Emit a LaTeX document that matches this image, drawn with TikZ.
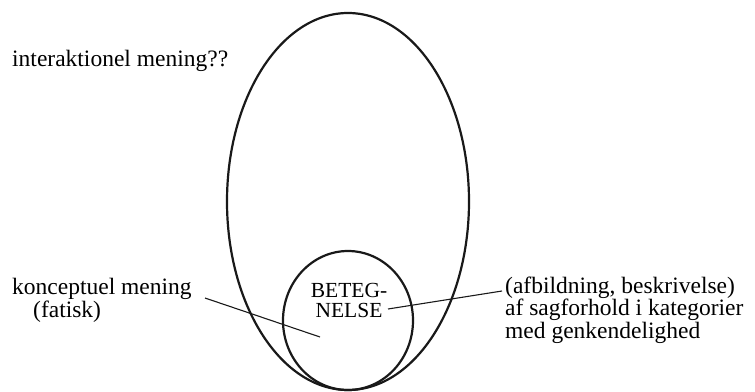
\documentclass[tikz,border=0pt]{standalone}
\usepackage{fontspec}
\setmainfont{Liberation Serif}
\begin{document}
\begin{tikzpicture}[x=1pt,y=-1pt,
  shape line/.style={line width=2.2pt, black!90},
  connector/.style={line width=1.1pt, black!90},
  label/.style={inner sep=0pt, font=\fontsize{23.5}{20.5}\selectfont},
  inlabel/.style={inner sep=0pt, font=\fontsize{21.5}{20}\selectfont}]
\useasboundingbox (0,0) rectangle (755,391);
% shapes
\draw[shape line] (348,201.5) ellipse [x radius=121, y radius=188.5];
\draw[shape line] (348,320.5) ellipse [x radius=65, y radius=69.5];
% labels (multi-line nodes anchored at the baseline of their last line)
\node[label, anchor=base west] (inter) at (12,66) {interaktionel mening??};
\node[label, anchor=base west, align=left] (konc) at (12,317.5) {konceptuel mening\\\hspace*{21pt}(fatisk)};
\node[label, anchor=base west, align=left] (afb) at (505,338) {(afbildning, beskrivelse)\\af sagforhold i kategorier\\med genkendelighed};
\node[inlabel, anchor=base, align=center] (bet) at (349,317) {BETEG-\\NELSE};
% connectors
\coordinate (kend) at (320,337);
\coordinate (kstart) at (205,298);
\coordinate (bstart) at (388,309);
\coordinate (aend) at (502,291);
\draw[connector] (kstart) -- (kend);
\draw[connector] (bstart) -- (aend);
\end{tikzpicture}
\end{document}
